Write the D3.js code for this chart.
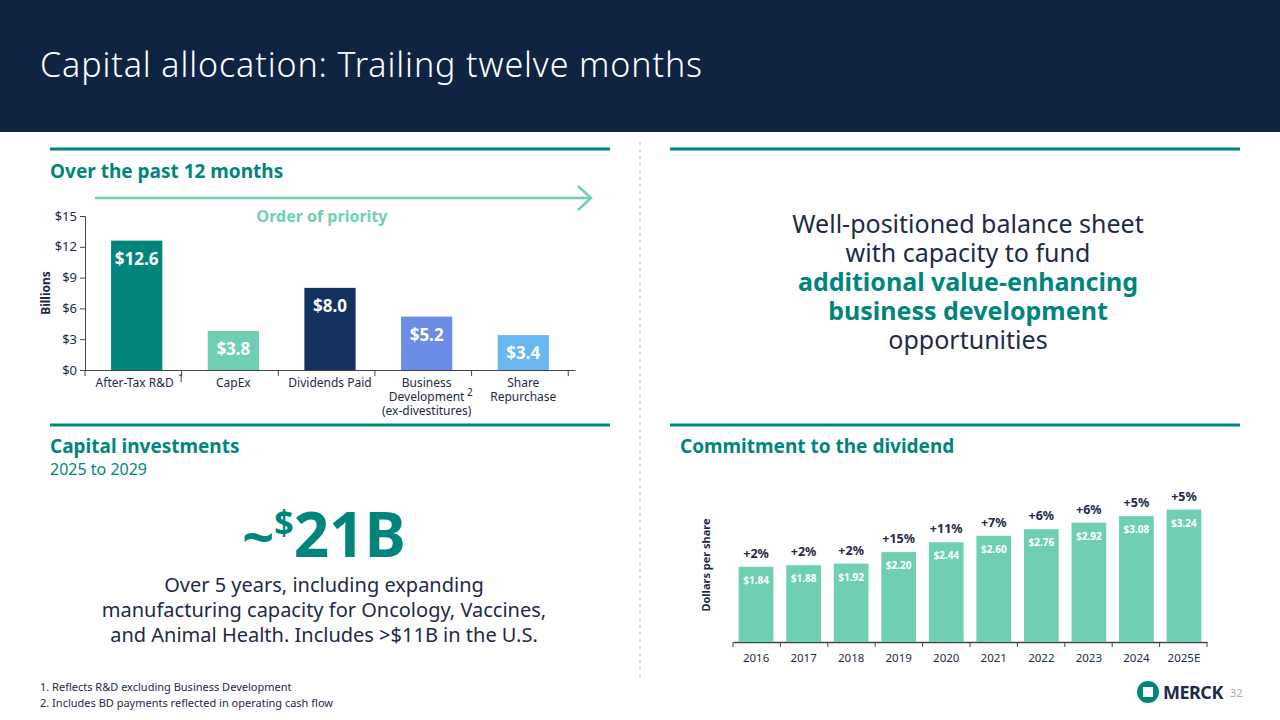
<!DOCTYPE html>
<html><head><meta charset="utf-8">
<script src="https://cdn.jsdelivr.net/npm/d3@7"></script>
<style>body{margin:0;background:#fff}svg{display:block;font-family:"Noto Sans",sans-serif}</style>
</head><body><svg id="c" width="1280" height="720"></svg>
<script>
const uses = ['After-Tax R&D', 'CapEx', 'Dividends Paid', 'Business Development (ex-divestitures)', 'Share Repurchase'];
const useValues = [12.6, 3.8, 8.0, 5.2, 3.4];
const useColors = ['#00857c', '#6fcfb3', '#14325f', '#6b8de6', '#69b8f0'];
const useTicks = [0, 3, 6, 9, 12, 15];
const years = ['2016', '2017', '2018', '2019', '2020', '2021', '2022', '2023', '2024', '2025E'];
const dividends = [1.84, 1.88, 1.92, 2.20, 2.44, 2.60, 2.76, 2.92, 3.08, 3.24];
const growth = ['+2%', '+2%', '+2%', '+15%', '+11%', '+7%', '+6%', '+6%', '+5%', '+5%'];

const svg = d3.select('#c');
const teal = '#00857c', ink = '#1d2a48';

svg.append('rect').attr('width', 1280).attr('height', 132).attr('fill', '#0e2442');
svg.append('text').attr('x', 40).attr('y', 77).attr('fill', '#fff').attr('font-size', 34).attr('font-weight', 300)
  .attr('textLength', 662).text('Capital allocation: Trailing twelve months');

// divider lines
[[50, 610, 149], [670, 1240, 149], [50, 610, 425], [670, 1240, 425]].forEach(([a, b, y]) =>
  svg.append('line').attr('x1', a).attr('x2', b).attr('y1', y).attr('y2', y).attr('stroke', teal).attr('stroke-width', 3));
svg.append('line').attr('x1', 640).attr('x2', 640).attr('y1', 142).attr('y2', 680)
  .attr('stroke', '#bbb').attr('stroke-dasharray', '3,4');

const head = (x, y, t) => svg.append('text').attr('x', x).attr('y', y).attr('fill', teal)
  .attr('font-size', 19).attr('font-weight', 700).text(t);
head(50, 178, 'Over the past 12 months');
head(50, 453, 'Capital investments');
head(680, 453, 'Commitment to the dividend');
svg.append('text').attr('x', 50).attr('y', 475).attr('fill', teal).attr('font-size', 16).text('2025 to 2029');

// priority arrow
svg.append('line').attr('x1', 95).attr('x2', 590).attr('y1', 198).attr('y2', 198).attr('stroke', '#6fcfb3').attr('stroke-width', 2.5);
svg.append('path').attr('d', 'M578,186 L591,198 L578,210').attr('fill', 'none').attr('stroke', '#6fcfb3').attr('stroke-width', 2.5);
svg.append('text').attr('x', 322).attr('y', 222).attr('text-anchor', 'middle').attr('fill', '#6fcfb3')
  .attr('font-size', 16).attr('font-weight', 700).text('Order of priority');

// left chart
const x1 = d3.scaleBand().domain(uses).range([85, 575]).paddingInner(0.47).paddingOuter(0.27);
const y1 = d3.scaleLinear().domain([0, 15]).range([370, 216]);
const g1 = svg.append('g');
g1.append('g').attr('transform', 'translate(85,0)')
  .call(d3.axisLeft(y1).tickValues(useTicks).tickFormat(d => '$' + d).tickSize(5))
  .call(g => g.selectAll('text').attr('font-size', 13).attr('fill', ink).attr('font-family', 'Noto Sans'))
  .call(g => g.selectAll('line,path').attr('stroke', '#444'));
const xa = g1.append('g').attr('transform', 'translate(0,370)')
  .call(d3.axisBottom(x1).tickSize(0).tickFormat(''));
xa.select('path').attr('stroke', '#444');
d3.range(uses.length + 1).forEach(i => {
  const xx = 85 + x1.step() * i;
  g1.append('line').attr('x1', xx).attr('x2', xx).attr('y1', 370).attr('y2', 376).attr('stroke', '#444');
});
g1.selectAll('rect.b').data(useValues).join('rect')
  .attr('x', (d, i) => x1(uses[i])).attr('width', x1.bandwidth())
  .attr('y', d => y1(d)).attr('height', d => 370 - y1(d)).attr('fill', (d, i) => useColors[i]);
g1.selectAll('text.v').data(useValues).join('text')
  .attr('x', (d, i) => x1(uses[i]) + x1.bandwidth() / 2).attr('y', d => y1(d) + 24)
  .attr('text-anchor', 'middle').attr('fill', '#fff').attr('font-size', 17).attr('font-weight', 700)
  .text(d => '$' + d.toFixed(1));
const labelLines = [['After-Tax R&D'], ['CapEx'], ['Dividends Paid'], ['Business', 'Development', '(ex-divestitures)'], ['Share', 'Repurchase']];
labelLines.forEach((ls, i) => {
  const cx = x1(uses[i]) + x1.bandwidth() / 2 + (i === 0 ? -2 : 0);
  const t = g1.append('text').attr('y', 387).attr('text-anchor', 'middle').attr('font-size', 12).attr('fill', ink);
  ls.forEach((l, j) => t.append('tspan').attr('x', cx).attr('dy', j ? 14 : 0).text(l));
});
g1.append('text').attr('x', 178).attr('y', 382).attr('font-size', 10).attr('fill', ink).text('1');
g1.append('text').attr('x', 467).attr('y', 396).attr('font-size', 10).attr('fill', ink).text('2');
g1.append('text').attr('transform', 'translate(50,293) rotate(-90)').attr('text-anchor', 'middle')
  .attr('font-size', 12).attr('font-weight', 700).attr('fill', ink).text('Billions');

// right top text
const rt = [['Well-positioned balance sheet', ink, 400], ['with capacity to fund', ink, 400],
  ['additional value-enhancing', teal, 700], ['business development', teal, 700], ['opportunities', ink, 400]];
rt.forEach(([t, c, w], i) => svg.append('text').attr('x', 968).attr('y', 233 + i * 29).attr('text-anchor', 'middle')
  .attr('font-size', 25).attr('fill', c).attr('font-weight', w).text(t));

// capital investments
const big = svg.append('text').attr('x', 324).attr('y', 557).attr('text-anchor', 'middle').attr('fill', teal).attr('font-weight', 700);
big.append('tspan').attr('font-size', 56).text('~');
big.append('tspan').attr('font-size', 34).attr('dy', -22).text('$');
big.append('tspan').attr('font-size', 62).attr('dy', 22).text('21B');
['Over 5 years, including expanding', 'manufacturing capacity for Oncology, Vaccines,', 'and Animal Health. Includes >$11B in the U.S.']
  .forEach((t, i) => svg.append('text').attr('x', 324).attr('y', 592 + i * 25).attr('text-anchor', 'middle')
    .attr('font-size', 20).attr('fill', ink).text(t));

// dividend chart
const x2 = d3.scaleBand().domain(years).range([733, 1207]).paddingInner(0.27).paddingOuter(0.12);
const y2 = d3.scaleLinear().domain([0, 3.5]).range([642, 499]);
const g2 = svg.append('g');
const xa2 = g2.append('g').attr('transform', 'translate(0,642)').call(d3.axisBottom(x2).tickSize(0).tickPadding(12));
xa2.select('path').attr('stroke', '#444').attr('stroke-width', 1.5);
xa2.selectAll('text').attr('font-size', 11.5).attr('fill', ink).attr('font-family', 'Noto Sans');
d3.range(years.length + 1).forEach(i => {
  const xx = 733 + i * (474 / years.length);
  g2.append('line').attr('x1', xx).attr('x2', xx).attr('y1', 642).attr('y2', 647).attr('stroke', '#444');
});
g2.selectAll('rect').data(dividends).join('rect')
  .attr('x', (d, i) => x2(years[i])).attr('width', x2.bandwidth())
  .attr('y', d => y2(d)).attr('height', d => 642 - y2(d)).attr('fill', '#6fcfb3');
g2.selectAll('text.v').data(dividends).join('text')
  .attr('x', (d, i) => x2(years[i]) + x2.bandwidth() / 2).attr('y', d => y2(d) + 17)
  .attr('text-anchor', 'middle').attr('fill', '#fff').attr('font-size', 10).attr('font-weight', 700)
  .text(d => '$' + d.toFixed(2));
g2.selectAll('text.g').data(dividends).join('text')
  .attr('x', (d, i) => x2(years[i]) + x2.bandwidth() / 2).attr('y', d => y2(d) - 9)
  .attr('text-anchor', 'middle').attr('fill', ink).attr('font-size', 12.5).attr('font-weight', 700)
  .text((d, i) => growth[i]);
g2.append('text').attr('transform', 'translate(710,565) rotate(-90)').attr('text-anchor', 'middle')
  .attr('font-size', 11).attr('font-weight', 700).attr('fill', ink).text('Dollars per share');

// footnotes & logo
svg.append('text').attr('x', 40).attr('y', 691).attr('font-size', 11).attr('fill', ink).text('1. Reflects R&D excluding Business Development');
svg.append('text').attr('x', 40).attr('y', 707).attr('font-size', 11).attr('fill', ink).text('2. Includes BD payments reflected in operating cash flow');
svg.append('circle').attr('cx', 1148).attr('cy', 692).attr('r', 11).attr('fill', teal);
svg.append('rect').attr('x', 1143).attr('y', 687).attr('width', 10).attr('height', 10).attr('fill', '#fff');
svg.append('text').attr('x', 1163).attr('y', 699).attr('font-size', 18).attr('font-weight', 700).attr('fill', ink).attr('letter-spacing', -0.5).text('MERCK');
svg.append('text').attr('x', 1230).attr('y', 697).attr('font-size', 11).attr('fill', '#aaa').text('32');
</script></body></html>
